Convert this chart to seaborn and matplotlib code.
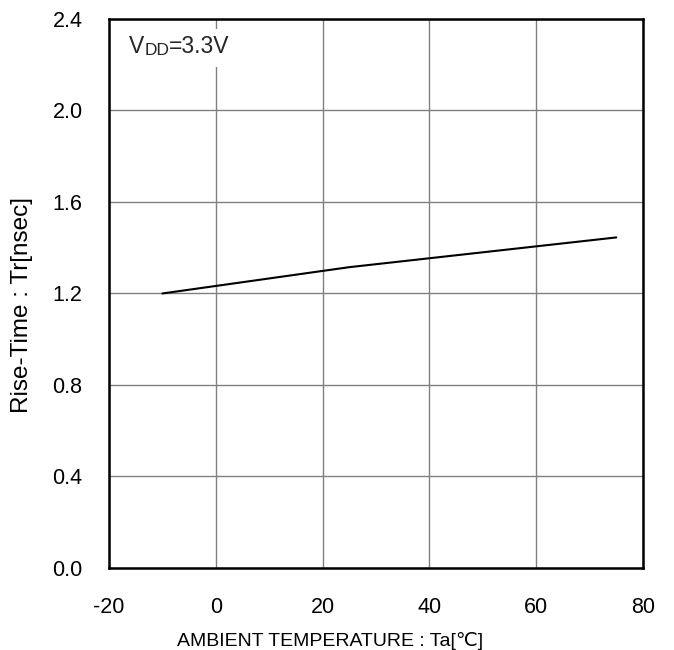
import matplotlib
matplotlib.use("Agg")
import matplotlib.pyplot as plt
from matplotlib.patches import Rectangle
import seaborn as sns
import pandas as pd

temperature = [-10, 25, 75]
rise_time = [1.20, 1.315, 1.445]
x_ticks = [-20, 0, 20, 40, 60, 80]
y_ticks = [0.0, 0.4, 0.8, 1.2, 1.6, 2.0, 2.4]

sns.set_theme(style="white")
plt.rcParams['font.family'] = ['Liberation Sans', 'DejaVu Sans']

df = pd.DataFrame({"Ta": temperature, "Tr": rise_time})

fig = plt.figure(figsize=(6.74, 6.5), dpi=100)
ax = fig.add_axes([0.1617, 0.1262, 0.7923, 0.8446])
sns.lineplot(data=df, x="Ta", y="Tr", ax=ax, color="black", linewidth=1.5, zorder=3)

ax.set_xlim(-20, 80)
ax.set_ylim(0, 2.4)
ax.set_xticks(x_ticks)
ax.set_yticks(y_ticks)
ax.set_xticklabels([str(v) for v in x_ticks], fontsize=15.5)
ax.set_yticklabels([f"{v:.1f}" for v in y_ticks], fontsize=15.5)
ax.tick_params(axis="x", length=0, pad=21, colors="black")
ax.tick_params(axis="y", length=0, pad=19, colors="black")
ax.grid(True, color="#808080", linewidth=1.0)
for s in ax.spines.values():
    s.set_color("black")
    s.set_linewidth(1.8)
    s.set_visible(True)
ax.set_xlabel("AMBIENT TEMPERATURE : Ta[℃]", fontsize=14, color="black")
ax.set_ylabel("Rise-Time : Tr[nsec]", fontsize=17.5, color="black")
ax.xaxis.set_label_coords(0.414, -0.116)
ax.yaxis.set_label_coords(-0.142, 0.479)

ax.add_patch(Rectangle((-17, 2.19), 20, 0.165, facecolor="white", edgecolor="none", zorder=2.5))
t1 = ax.text(-16.25, 2.25, "V", fontsize=16.5, va="baseline", ha="left", zorder=4)
t2 = ax.annotate("DD", xy=(1, 0), xycoords=t1, fontsize=12.5, va="bottom", ha="left", zorder=4)
t3 = ax.annotate("=3.3V", xy=(1, 0), xycoords=t2, fontsize=16.5, va="bottom", ha="left", zorder=4)

fig.savefig("out.png", dpi=100)
